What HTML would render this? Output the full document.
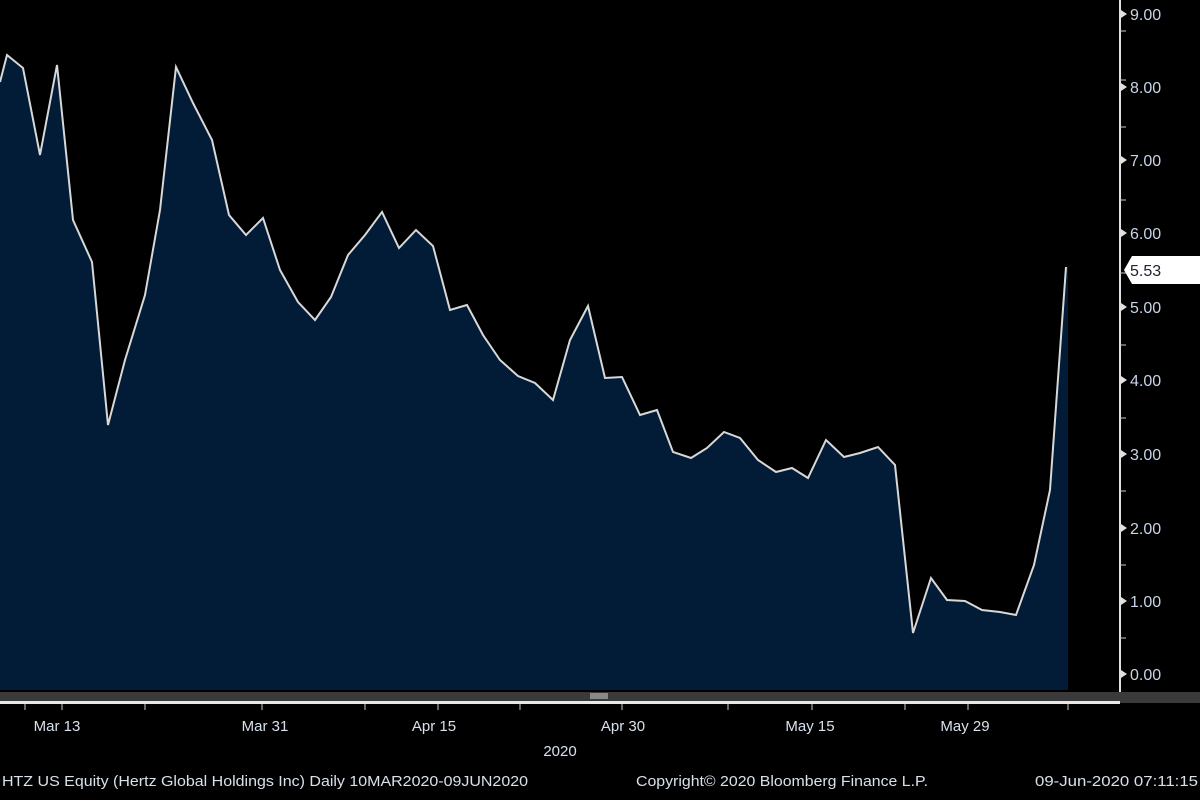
<!DOCTYPE html><html><head><style>
html,body{margin:0;padding:0;background:#000;width:1200px;height:800px;overflow:hidden}
svg{display:block}
text{font-family:"Liberation Sans Narrow","Liberation Sans",sans-serif;font-size:15px}
</style></head><body>
<svg width="1200" height="800" viewBox="0 0 1200 800">
<rect width="1200" height="800" fill="#000"/>
<polygon fill="#021c38" points="0,690 0,82 7,55 23,68 40,155 57,65 73,220 92,262 108,425 125,360 145,295 160,210 176,67 193,103 212,140 229,215 246,235 263,218 280,270 298,302 315,320 331,297 348,255 365,235 382,212 399,248 416,230 433,246 450,310 467,305 483,335 500,360 518,376 535,383 553,400 570,340 588,306 605,378 622,377 640,415 657,410 673,452 691,458 707,448 724,432 740,438 758,460 776,472 792,468 808,478 826,440 844,457 860,453 878,447 895,465 913,633 931,578 947,600 965,601 982,610 1000,612 1016,615 1034,565 1050,490 1066,267 1068,267 1068,690"/>
<polyline fill="none" stroke="#d8d8d8" stroke-width="2" points="0,82 7,55 23,68 40,155 57,65 73,220 92,262 108,425 125,360 145,295 160,210 176,67 193,103 212,140 229,215 246,235 263,218 280,270 298,302 315,320 331,297 348,255 365,235 382,212 399,248 416,230 433,246 450,310 467,305 483,335 500,360 518,376 535,383 553,400 570,340 588,306 605,378 622,377 640,415 657,410 673,452 691,458 707,448 724,432 740,438 758,460 776,472 792,468 808,478 826,440 844,457 860,453 878,447 895,465 913,633 931,578 947,600 965,601 982,610 1000,612 1016,615 1034,565 1050,490 1066,267"/>
<rect x="0" y="692" width="1200" height="11" fill="#3a3a3a"/>
<rect x="0" y="701" width="1120" height="3" fill="#e8e8e8"/>
<rect x="590" y="693" width="18" height="6" fill="#888"/>
<line x1="1120" y1="0" x2="1120" y2="692" stroke="#e0e0e0" stroke-width="2"/>
<g fill="#e0e0e0">
<polygon points="1121,10 1127,14 1121,18"/><polygon points="1121,83 1127,87 1121,91"/><polygon points="1121,156 1127,160 1121,164"/><polygon points="1121,229 1127,233 1121,237"/><polygon points="1121,303 1127,307 1121,311"/><polygon points="1121,376 1127,380 1121,384"/><polygon points="1121,450 1127,454 1121,458"/><polygon points="1121,524 1127,528 1121,532"/><polygon points="1121,597 1127,601 1121,605"/><polygon points="1121,670 1127,674 1121,678"/>
</g>
<g stroke="#ccc" stroke-width="1">
<line x1="1120" y1="31" x2="1126" y2="31"/><line x1="1120" y1="80" x2="1126" y2="80"/><line x1="1120" y1="127" x2="1126" y2="127"/><line x1="1120" y1="200" x2="1126" y2="200"/><line x1="1120" y1="273" x2="1126" y2="273"/><line x1="1120" y1="345" x2="1126" y2="345"/><line x1="1120" y1="418" x2="1126" y2="418"/><line x1="1120" y1="491" x2="1126" y2="491"/><line x1="1120" y1="565" x2="1126" y2="565"/><line x1="1120" y1="638" x2="1126" y2="638"/>
</g>
<g fill="#c8d4e8" font-size="16">
<text x="1130" y="20" style="font-size:16px">9.00</text><text x="1130" y="93" style="font-size:16px">8.00</text><text x="1130" y="166" style="font-size:16px">7.00</text><text x="1130" y="239" style="font-size:16px">6.00</text><text x="1130" y="313" style="font-size:16px">5.00</text><text x="1130" y="386" style="font-size:16px">4.00</text><text x="1130" y="460" style="font-size:16px">3.00</text><text x="1130" y="534" style="font-size:16px">2.00</text><text x="1130" y="607" style="font-size:16px">1.00</text><text x="1130" y="680" style="font-size:16px">0.00</text>
</g>
<polygon points="1124,270 1132,256 1200,256 1200,284 1132,284" fill="#fff"/>
<text x="1130" y="276" fill="#223" style="font-size:16px">5.53</text>
<g stroke="#ccc" stroke-width="1">
<line x1="25" y1="704" x2="25" y2="710"/><line x1="62" y1="704" x2="62" y2="710"/><line x1="145" y1="704" x2="145" y2="710"/><line x1="262" y1="704" x2="262" y2="710"/><line x1="365" y1="704" x2="365" y2="710"/><line x1="438" y1="704" x2="438" y2="710"/><line x1="520" y1="704" x2="520" y2="710"/><line x1="622" y1="704" x2="622" y2="710"/><line x1="728" y1="704" x2="728" y2="710"/><line x1="812" y1="704" x2="812" y2="710"/><line x1="905" y1="704" x2="905" y2="710"/><line x1="968" y1="704" x2="968" y2="710"/><line x1="1068" y1="704" x2="1068" y2="710"/>
</g>
<g fill="#d8e0ec" text-anchor="middle">
<text x="57" y="731">Mar 13</text><text x="265" y="731">Mar 31</text><text x="434" y="731">Apr 15</text><text x="623" y="731">Apr 30</text><text x="810" y="731">May 15</text><text x="965" y="731">May 29</text>
<text x="560" y="756">2020</text>
</g>
<g fill="#d8e0ec">
<text x="2" y="786" textLength="526" lengthAdjust="spacingAndGlyphs">HTZ US Equity (Hertz Global Holdings Inc)  Daily 10MAR2020-09JUN2020</text>
<text x="636" y="786" textLength="292" lengthAdjust="spacingAndGlyphs">Copyright© 2020 Bloomberg Finance L.P.</text>
<text x="1035" y="786" textLength="163" lengthAdjust="spacingAndGlyphs">09-Jun-2020 07:11:15</text>
</g>
</svg>
</body></html>
